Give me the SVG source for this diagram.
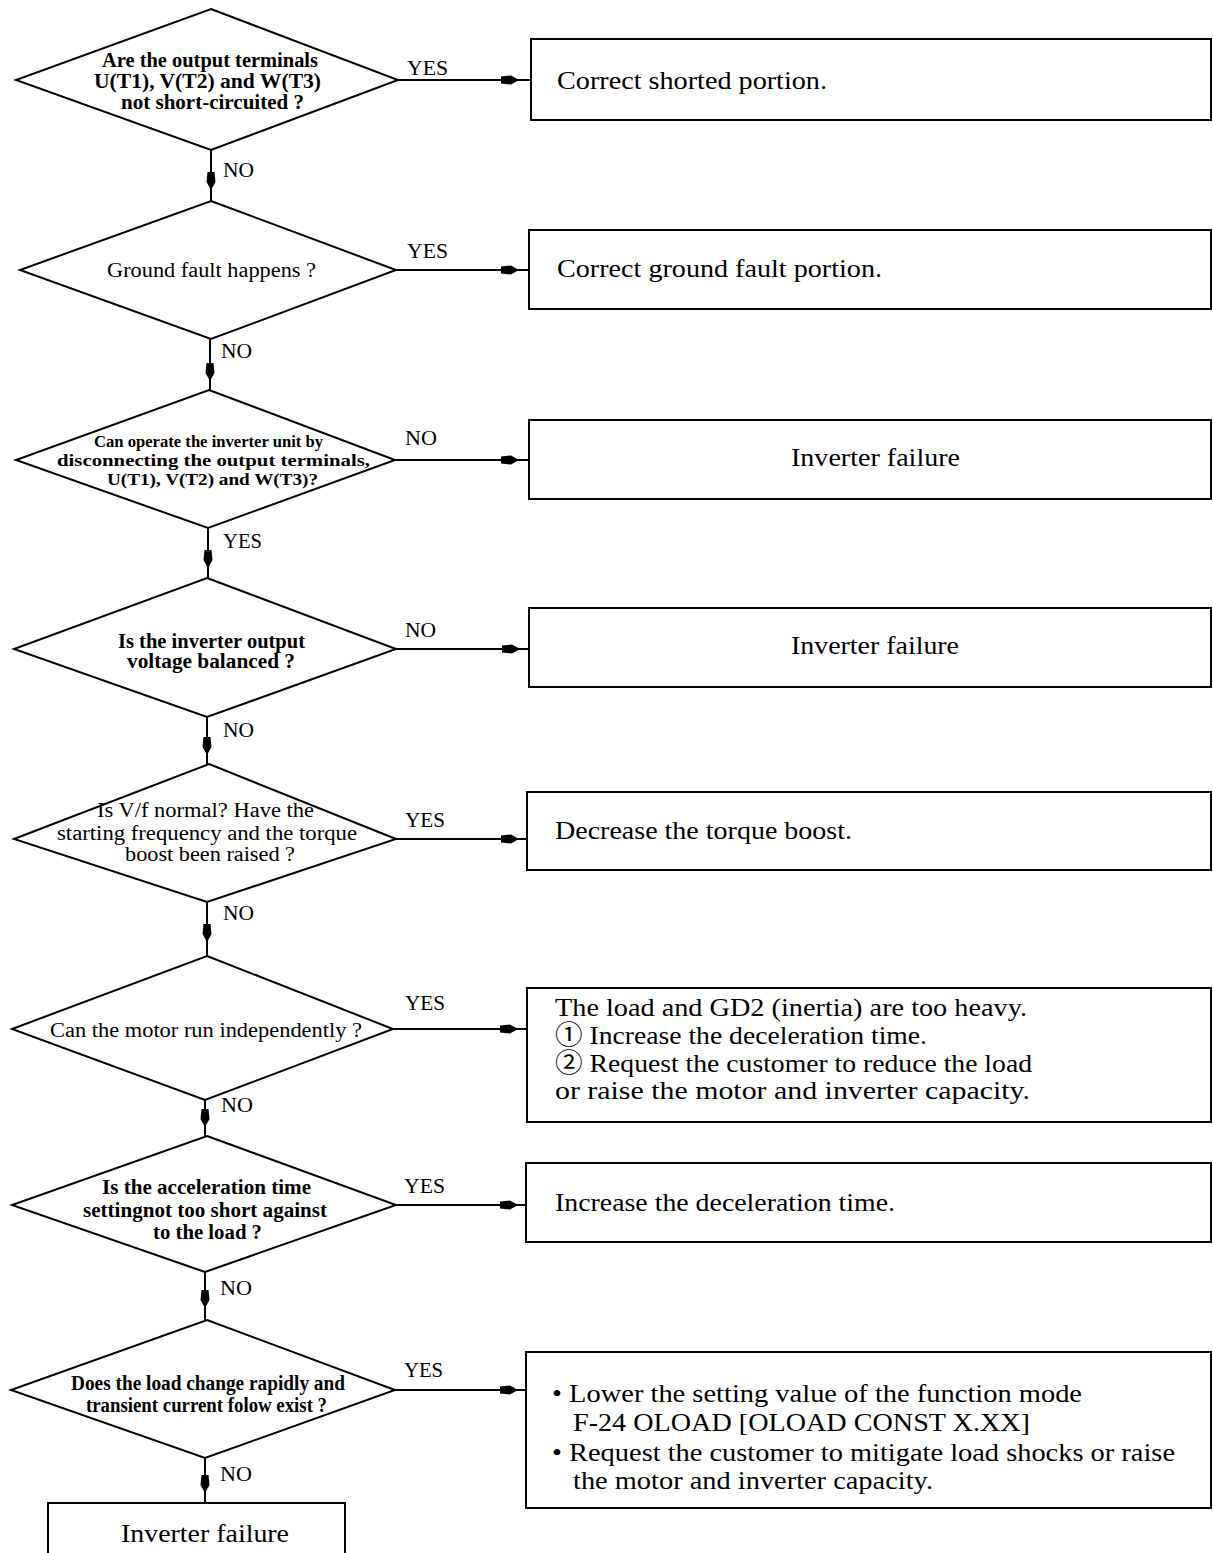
<svg xmlns="http://www.w3.org/2000/svg" width="1213" height="1553" viewBox="0 0 1213 1553">
  <style>
    .shape { fill: #fff; stroke: #000; stroke-width: 2; }
    .conn { fill: none; stroke: #000; stroke-width: 2; marker-mid: url(#arrow); }
    text { font-family: "Liberation Serif", "Times New Roman", "Noto Sans CJK JP", serif; fill: #000; }
    .q { font-size: 20px; }
    .qs { font-size: 17px; }
    .b { font-weight: bold; }
    .lbl { font-size: 22px; }
    .txt { font-size: 26px; }
  </style>
  <defs>
    <marker id="arrow" viewBox="-18 -6 20 12" refX="0" refY="0" markerWidth="20" markerHeight="12" markerUnits="userSpaceOnUse" orient="auto">
      <path d="M0,0 L-8,-4.5 L-18,-3.5 L-18,3.5 L-8,4.5 Z" fill="#000"/>
    </marker>
  </defs>
  <rect x="0" y="0" width="1213" height="1553" fill="#fff"/>

  <!-- connectors -->
  <g id="connectors">
    <path class="conn" d="M398,80 L519,80 L531,80"/>
    <path class="conn" d="M396,270 L519,270 L529,270"/>
    <path class="conn" d="M395,460 L519,460 L529,460"/>
    <path class="conn" d="M396,649 L520,649 L529,649"/>
    <path class="conn" d="M396,839 L519,839 L527,839"/>
    <path class="conn" d="M393,1029 L518,1029 L527,1029"/>
    <path class="conn" d="M396,1205 L518,1205 L526,1205"/>
    <path class="conn" d="M395,1390 L518,1390 L526,1390"/>
    <path class="conn" d="M211,150 L211,190 L211,201"/>
    <path class="conn" d="M210,339 L210,381 L210,390"/>
    <path class="conn" d="M208,528 L208,568 L208,578"/>
    <path class="conn" d="M207,717 L207,755 L207,764"/>
    <path class="conn" d="M207,902 L207,942 L207,956"/>
    <path class="conn" d="M205,1100 L205,1127 L205,1136"/>
    <path class="conn" d="M205,1272 L205,1308 L205,1320"/>
    <path class="conn" d="M205,1458 L205,1493 L205,1503"/>
    <text class="lbl" x="407" y="75" textLength="41" lengthAdjust="spacingAndGlyphs">YES</text>
    <text class="lbl" x="223" y="177" textLength="31" lengthAdjust="spacingAndGlyphs">NO</text>
    <text class="lbl" x="407" y="258" textLength="41" lengthAdjust="spacingAndGlyphs">YES</text>
    <text class="lbl" x="221" y="358" textLength="31" lengthAdjust="spacingAndGlyphs">NO</text>
    <text class="lbl" x="405" y="445" textLength="32" lengthAdjust="spacingAndGlyphs">NO</text>
    <text class="lbl" x="223" y="548" textLength="39" lengthAdjust="spacingAndGlyphs">YES</text>
    <text class="lbl" x="405" y="637" textLength="31" lengthAdjust="spacingAndGlyphs">NO</text>
    <text class="lbl" x="223" y="737" textLength="31" lengthAdjust="spacingAndGlyphs">NO</text>
    <text class="lbl" x="405" y="827" textLength="40" lengthAdjust="spacingAndGlyphs">YES</text>
    <text class="lbl" x="223" y="920" textLength="31" lengthAdjust="spacingAndGlyphs">NO</text>
    <text class="lbl" x="405" y="1010" textLength="40" lengthAdjust="spacingAndGlyphs">YES</text>
    <text class="lbl" x="221" y="1112" textLength="32" lengthAdjust="spacingAndGlyphs">NO</text>
    <text class="lbl" x="404" y="1193" textLength="41" lengthAdjust="spacingAndGlyphs">YES</text>
    <text class="lbl" x="220" y="1295" textLength="32" lengthAdjust="spacingAndGlyphs">NO</text>
    <text class="lbl" x="404" y="1377" textLength="39" lengthAdjust="spacingAndGlyphs">YES</text>
    <text class="lbl" x="220" y="1481" textLength="32" lengthAdjust="spacingAndGlyphs">NO</text>
  </g>

  <!-- decisions -->
  <g id="q-short">
    <polygon class="shape" points="211,9 398,80 211,150 16,80"/>
    <text class="q b" x="102" y="67" textLength="216" lengthAdjust="spacingAndGlyphs">Are the output terminals</text>
    <text class="q b" x="94" y="88" textLength="227" lengthAdjust="spacingAndGlyphs">U(T1), V(T2) and W(T3)</text>
    <text class="q b" x="121" y="109" textLength="183" lengthAdjust="spacingAndGlyphs">not short-circuited ?</text>
  </g>
  <g id="q-ground">
    <polygon class="shape" points="211,201 396,270 211,339 20,270"/>
    <text class="q" x="107" y="277" textLength="209" lengthAdjust="spacingAndGlyphs">Ground fault happens ?</text>
  </g>
  <g id="q-disconnect">
    <polygon class="shape" points="209,390 395,460 208,528 16,460"/>
    <text class="qs b" x="94" y="447" textLength="229" lengthAdjust="spacingAndGlyphs">Can operate the inverter unit by</text>
    <text class="qs b" x="57" y="466" textLength="313" lengthAdjust="spacingAndGlyphs">disconnecting the output terminals,</text>
    <text class="qs b" x="107" y="485" textLength="211" lengthAdjust="spacingAndGlyphs">U(T1), V(T2) and W(T3)?</text>
  </g>
  <g id="q-balance">
    <polygon class="shape" points="207,578 396,649 207,717 14,649"/>
    <text class="q b" x="118" y="648" textLength="187" lengthAdjust="spacingAndGlyphs">Is the inverter output</text>
    <text class="q b" x="127" y="668" textLength="168" lengthAdjust="spacingAndGlyphs">voltage balanced ?</text>
  </g>
  <g id="q-vf">
    <polygon class="shape" points="209,764 396,839 207,902 14,839"/>
    <text class="q" x="97" y="817" textLength="217" lengthAdjust="spacingAndGlyphs">Is V/f normal? Have the</text>
    <text class="q" x="57" y="840" textLength="300" lengthAdjust="spacingAndGlyphs">starting frequency and the torque</text>
    <text class="q" x="125" y="861" textLength="170" lengthAdjust="spacingAndGlyphs">boost been raised ?</text>
  </g>
  <g id="q-motor">
    <polygon class="shape" points="207,956 393,1029 205,1100 12,1029"/>
    <text class="q" x="50" y="1037" textLength="312" lengthAdjust="spacingAndGlyphs">Can the motor run independently ?</text>
  </g>
  <g id="q-accel">
    <polygon class="shape" points="207,1136 396,1205 205,1272 12,1205"/>
    <text class="q b" x="102" y="1194" textLength="209" lengthAdjust="spacingAndGlyphs">Is the acceleration time</text>
    <text class="q b" x="83" y="1217" textLength="244" lengthAdjust="spacingAndGlyphs">settingnot too short against</text>
    <text class="q b" x="153" y="1239" textLength="109" lengthAdjust="spacingAndGlyphs">to the load ?</text>
  </g>
  <g id="q-load">
    <polygon class="shape" points="207,1320 395,1390 205,1458 11,1390"/>
    <text class="q b" x="71" y="1390" textLength="274" lengthAdjust="spacingAndGlyphs">Does the load change rapidly and</text>
    <text class="q b" x="86" y="1412" textLength="241" lengthAdjust="spacingAndGlyphs">transient current folow exist ?</text>
  </g>

  <!-- actions -->
  <g id="a-short">
    <rect class="shape" x="531" y="39" width="680" height="81"/>
    <text class="txt" x="557" y="89" textLength="270" lengthAdjust="spacingAndGlyphs">Correct shorted portion.</text>
  </g>
  <g id="a-ground">
    <rect class="shape" x="529" y="230" width="682" height="79"/>
    <text class="txt" x="557" y="277" textLength="325" lengthAdjust="spacingAndGlyphs">Correct ground fault portion.</text>
  </g>
  <g id="a-fail-1">
    <rect class="shape" x="529" y="420" width="682" height="79"/>
    <text class="txt" x="791" y="466" textLength="169" lengthAdjust="spacingAndGlyphs">Inverter failure</text>
  </g>
  <g id="a-fail-2">
    <rect class="shape" x="529" y="608" width="682" height="79"/>
    <text class="txt" x="791" y="654" textLength="168" lengthAdjust="spacingAndGlyphs">Inverter failure</text>
  </g>
  <g id="a-boost">
    <rect class="shape" x="527" y="792" width="684" height="78"/>
    <text class="txt" x="555" y="839" textLength="297" lengthAdjust="spacingAndGlyphs">Decrease the torque boost.</text>
  </g>
  <g id="a-heavy">
    <rect class="shape" x="527" y="988" width="684" height="134"/>
    <text class="txt" x="555" y="1016" textLength="472" lengthAdjust="spacingAndGlyphs">The load and GD2 (inertia) are too heavy.</text>
    <text class="txt" x="555" y="1044" textLength="372" lengthAdjust="spacingAndGlyphs">① Increase the deceleration time.</text>
    <text class="txt" x="555" y="1072" textLength="477" lengthAdjust="spacingAndGlyphs">② Request the customer to reduce the load</text>
    <text class="txt" x="555" y="1099" textLength="475" lengthAdjust="spacingAndGlyphs">or raise the motor and inverter capacity.</text>
  </g>
  <g id="a-decel">
    <rect class="shape" x="526" y="1163" width="685" height="79"/>
    <text class="txt" x="555" y="1211" textLength="340" lengthAdjust="spacingAndGlyphs">Increase the deceleration time.</text>
  </g>
  <g id="a-oload">
    <rect class="shape" x="526" y="1352" width="685" height="156"/>
    <text class="txt" x="552" y="1402" textLength="530" lengthAdjust="spacingAndGlyphs">• Lower the setting value of the function mode</text>
    <text class="txt" x="573" y="1431" textLength="457" lengthAdjust="spacingAndGlyphs">F-24 OLOAD [OLOAD CONST X.XX]</text>
    <text class="txt" x="552" y="1461" textLength="623" lengthAdjust="spacingAndGlyphs">• Request the customer to mitigate load shocks or raise</text>
    <text class="txt" x="573" y="1489" textLength="360" lengthAdjust="spacingAndGlyphs">the motor and inverter capacity.</text>
  </g>
  <g id="a-fail-3">
    <rect class="shape" x="48" y="1503" width="297" height="60"/>
    <text class="txt" x="121" y="1542" textLength="168" lengthAdjust="spacingAndGlyphs">Inverter failure</text>
  </g>
</svg>
